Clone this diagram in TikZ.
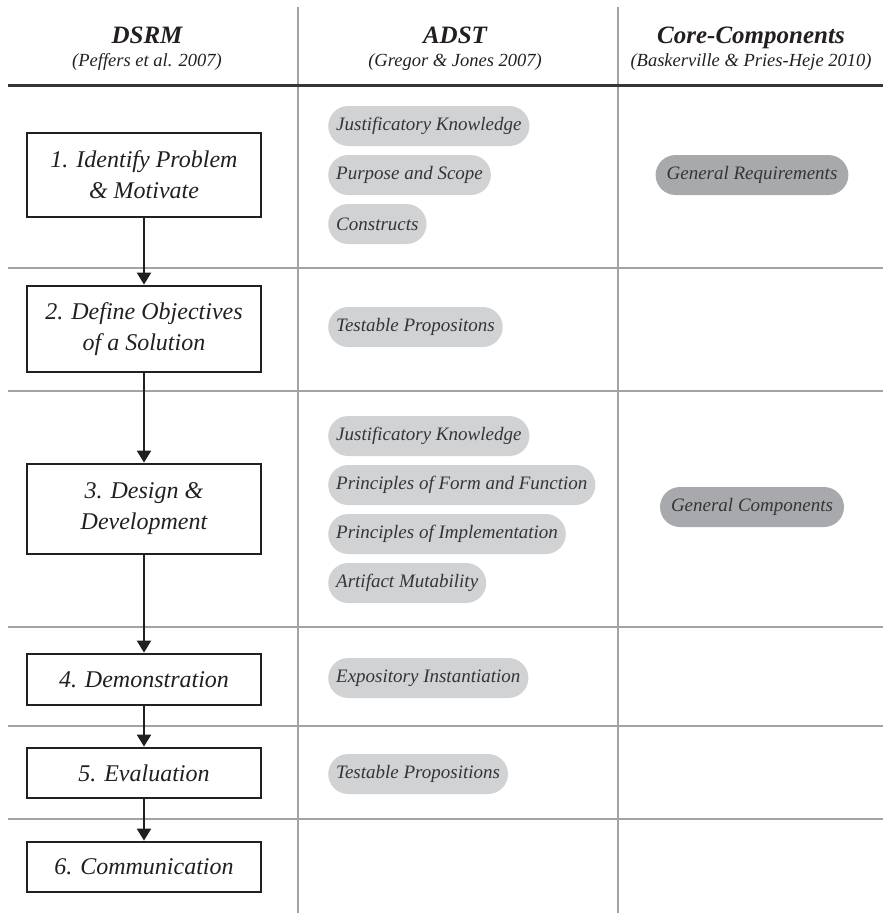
\documentclass[tikz,border=0pt]{standalone}
\usepackage{fontspec}
\setmainfont{Liberation Serif}
\usetikzlibrary{arrows.meta}

\definecolor{pilllight}{HTML}{D1D2D4}
\definecolor{pilldark}{HTML}{A7A9AC}
\definecolor{rulegray}{HTML}{A3A3A3}
\definecolor{ink}{HTML}{231F20}
\definecolor{pillink}{HTML}{353535}

\begin{document}
\begin{tikzpicture}[x=1pt,y=-1pt,
  stepbox/.style={draw=ink, line width=2.8pt, fill=white, minimum width=234pt,
    inner sep=0pt, align=center, font=\fontsize{24}{31}\selectfont\itshape, text=ink},
  pill/.style={fill=pilllight, rounded corners=20pt, minimum height=40pt,
    inner xsep=8pt, inner ysep=0pt, font=\fontsize{19}{22}\selectfont\itshape,
    text=pillink, anchor=west},
  corepill/.style={pill, fill=pilldark, anchor=center, inner xsep=11pt},
  head/.style={font=\fontsize{25}{28}\selectfont\bfseries\itshape, text=ink, anchor=base},
  sub/.style={font=\fontsize{18.5}{22}\selectfont\itshape, text=ink, anchor=base},
  rowrule/.style={draw=rulegray, line width=1.3pt},
  headrule/.style={draw=ink!90, line width=3pt},
  flow/.style={draw=ink, line width=2.2pt, -{Triangle[length=12pt,width=14pt]}}
]
\useasboundingbox (0,0) rectangle (883,913);

% table grid
\draw[rowrule] (298,7) -- (298,913);
\draw[rowrule] (618,7) -- (618,913);
\draw[headrule] (8,85) -- (883,85);
\foreach \yy in {268,391,627,726,819}
  \draw[rowrule] (8,\yy) -- (883,\yy);

% column headings
\node[head] (hDSRM) at (147,43) {DSRM};
\node[sub]  (sDSRM) at (147,66) {(Peffers et al. 2007)};
\node[head] (hADST) at (455,43) {ADST};
\node[sub]  (sADST) at (455,66) {(Gregor \& Jones 2007)};
\node[head] (hCore) at (751,43) {Core-Components};
\node[sub]  (sCore) at (751,66) {(Baskerville \& Pries-Heje 2010)};

% DSRM process steps
\node[stepbox, minimum height=84pt] (s1) at (144,175) {1. Identify Problem\\\& Motivate};
\node[stepbox, minimum height=86pt] (s2) at (144,329) {2. Define Objectives\\of a Solution};
\node[stepbox, minimum height=90pt] (s3) at (144,509) {3. Design \&\\Development};
\node[stepbox, minimum height=51pt] (s4) at (144,679.5) {4. Demonstration};
\node[stepbox, minimum height=50pt] (s5) at (144,773) {5. Evaluation};
\node[stepbox, minimum height=50pt] (s6) at (144,867) {6. Communication};

\draw[flow] (s1.south) -- (s2.north);
\draw[flow] (s2.south) -- (s3.north);
\draw[flow] (s3.south) -- (s4.north);
\draw[flow] (s4.south) -- (s5.north);
\draw[flow] (s5.south) -- (s6.north);

% ADST components
\node[pill] (a11) at (328,126) {Justificatory Knowledge};
\node[pill] (a12) at (328,175) {Purpose and Scope};
\node[pill] (a13) at (328,224) {Constructs};
\node[pill] (a21) at (328,327) {Testable Propositons};
\node[pill] (a31) at (328,436) {Justificatory Knowledge};
\node[pill] (a32) at (328,485) {Principles of Form and Function};
\node[pill] (a33) at (328,534) {Principles of Implementation};
\node[pill] (a34) at (328,583) {Artifact Mutability};
\node[pill] (a41) at (328,678) {Expository Instantiation};
\node[pill] (a51) at (328,774) {Testable Propositions};

% core components
\node[corepill] (c1) at (752,175) {General Requirements};
\node[corepill] (c3) at (752,507) {General Components};
\end{tikzpicture}
\end{document}
